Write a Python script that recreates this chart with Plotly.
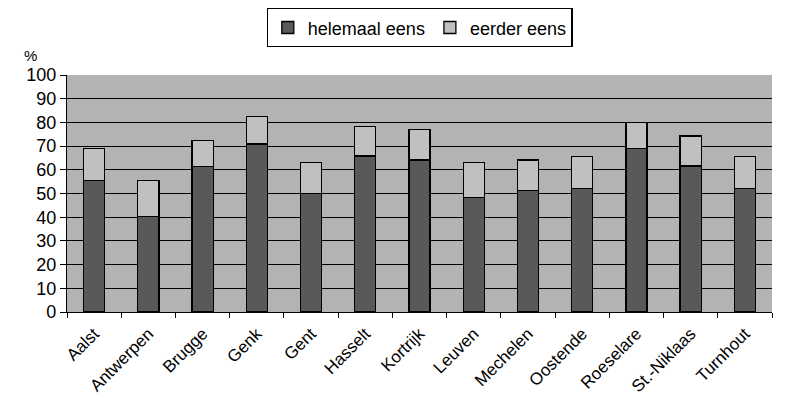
import plotly.graph_objects as go

cities = ["Aalst", "Antwerpen", "Brugge", "Genk", "Gent", "Hasselt", "Kortrijk",
          "Leuven", "Mechelen", "Oostende", "Roeselare", "St.-Niklaas", "Turnhout"]
helemaal = [55.5, 40.2, 61.3, 70.9, 49.9, 65.8, 64.1, 48.2, 51.2, 52.2, 69.1, 61.6, 52.2]
totaal = [69.0, 55.6, 72.3, 82.6, 63.0, 78.2, 77.1, 63.0, 64.1, 65.5, 80.0, 74.3, 65.5]
eerder = [round(t - h, 1) for t, h in zip(totaal, helemaal)]
y_ticks = list(range(0, 101, 10))

fig = go.Figure()
fig.add_trace(go.Bar(x=cities, y=helemaal, name="helemaal eens",
                     marker=dict(color="#595959", line=dict(color="black", width=1.3))))
fig.add_trace(go.Bar(x=cities, y=eerder, name="eerder eens",
                     marker=dict(color="#c0c0c0", line=dict(color="black", width=1.3))))

fig.update_layout(
    barmode="stack",
    bargap=0.61,
    width=785, height=409,
    margin=dict(l=59, r=21, t=67, b=105),
    paper_bgcolor="white",
    plot_bgcolor="#b3b3b3",
    font=dict(family="Liberation Sans, Arial", color="black"),
    legend=dict(orientation="h", x=0.5, xanchor="center", y=1.0, yref="container",
                yanchor="top", bordercolor="black", borderwidth=1.3,
                font=dict(size=18), bgcolor="white", traceorder="normal",
                itemwidth=30, tracegroupgap=0),
    showlegend=True,
    annotations=[dict(text="%", xref="paper", yref="paper", x=-0.064, y=1.127,
                      showarrow=False, font=dict(size=15))],
)

fig.update_yaxes(range=[0, 100], tickvals=y_ticks, showgrid=True, gridcolor="black",
                 gridwidth=1.4, ticks="outside", ticklen=6, tickcolor="black",
                 showline=True, linecolor="black", linewidth=1.3, tickfont=dict(size=18),
                 zeroline=False)
fig.update_xaxes(tickangle=-45, ticks="outside", ticklen=5, tickcolor="black",
                 showline=True, linecolor="black", linewidth=1.3, tickfont=dict(size=17),
                 tickson="boundaries", ticklabelstandoff=4)

fig.write_html("out.html")
